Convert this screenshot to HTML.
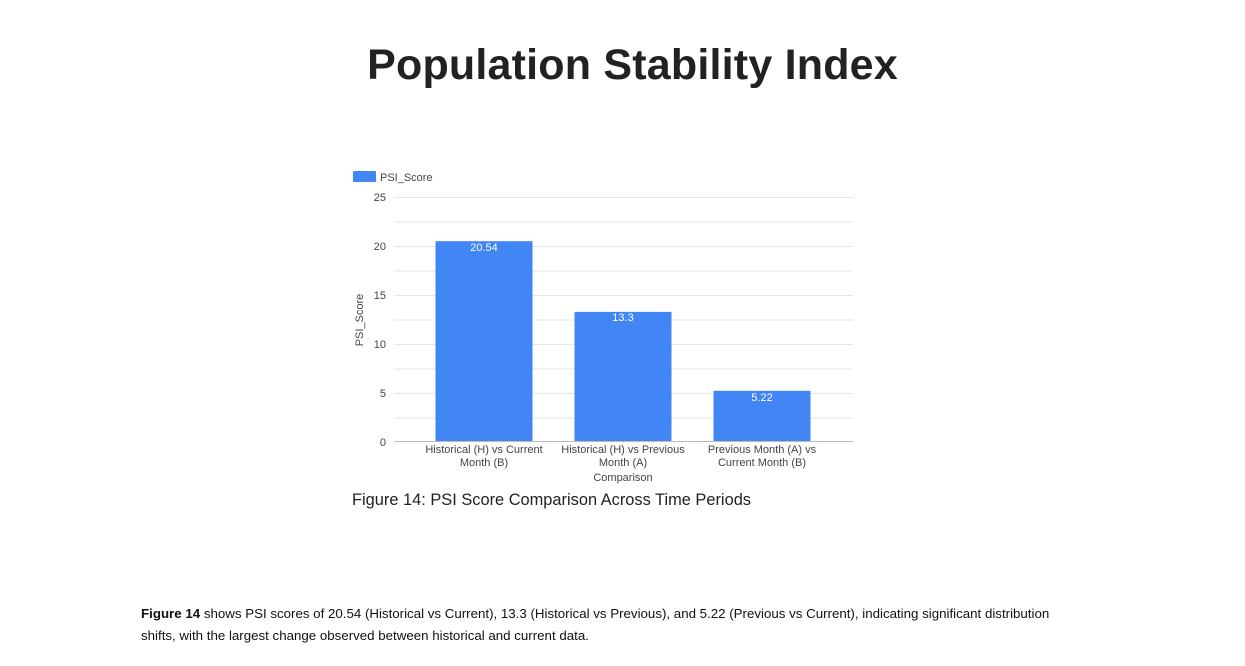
<!DOCTYPE html>
<html><head><style>
body{margin:0;width:1245px;height:666px;background:#fff;position:relative;overflow:hidden;font-family:"Liberation Sans",Arial,sans-serif;}
.t{position:absolute;left:0;width:1265px;text-align:center;top:41px;font-size:43px;font-weight:bold;color:#222;letter-spacing:0.2px}
.cap{position:absolute;left:352px;top:491px;font-size:16.4px;color:#222}
.p{position:absolute;left:141px;top:603px;width:1000px;font-size:13.3px;line-height:22px;color:#111}
</style></head><body>
<div class="t">Population Stability Index</div>
<svg width="1245" height="666" style="position:absolute;left:0;top:0" font-family="Liberation Sans, Arial, sans-serif">
<rect x="353" y="171" width="23" height="11" fill="#4285f4" rx="1"/>
<text x="380" y="181" font-size="11" fill="#444">PSI_Score</text>
<g stroke="#e6e6e6" stroke-width="1">
<line x1="394" x2="853" y1="197.5" y2="197.5"/><line x1="394" x2="853" y1="222" y2="222"/>
<line x1="394" x2="853" y1="246.5" y2="246.5"/><line x1="394" x2="853" y1="271" y2="271"/>
<line x1="394" x2="853" y1="295.5" y2="295.5"/><line x1="394" x2="853" y1="320" y2="320"/>
<line x1="394" x2="853" y1="344.5" y2="344.5"/><line x1="394" x2="853" y1="369" y2="369"/>
<line x1="394" x2="853" y1="393.5" y2="393.5"/><line x1="394" x2="853" y1="418" y2="418"/>
</g>
<g font-size="11" fill="#444" text-anchor="end">
<text x="386" y="201">25</text><text x="386" y="250">20</text><text x="386" y="299">15</text>
<text x="386" y="348">10</text><text x="386" y="397">5</text><text x="386" y="446">0</text>
</g>
<text transform="translate(363,320) rotate(-90)" font-size="11" fill="#444" text-anchor="middle">PSI_Score</text>
<rect x="435.5" y="241.2" width="97" height="200.5" fill="#4285f4"/>
<rect x="574.5" y="311.9" width="97" height="129.8" fill="#4285f4"/>
<rect x="713.5" y="390.8" width="97" height="50.9" fill="#4285f4"/>
<line x1="394" x2="853" y1="441.5" y2="441.5" stroke="#bbb"/>
<g font-size="11" fill="#fff" text-anchor="middle">
<text x="484" y="251">20.54</text><text x="623" y="321">13.3</text><text x="762" y="401">5.22</text>
</g>
<g font-size="11" fill="#444" text-anchor="middle">
<text x="484" y="453">Historical (H) vs Current</text><text x="484" y="466">Month (B)</text>
<text x="623" y="453">Historical (H) vs Previous</text><text x="623" y="466">Month (A)</text>
<text x="762" y="453">Previous Month (A) vs</text><text x="762" y="466">Current Month (B)</text>
<text x="623" y="481">Comparison</text>
</g>
</svg>
<div class="cap">Figure 14: PSI Score Comparison Across Time Periods</div>
<div class="p"><b>Figure 14</b> shows PSI scores of 20.54 (Historical vs Current), 13.3 (Historical vs Previous), and 5.22 (Previous vs Current), indicating significant distribution<br>shifts, with the largest change observed between historical and current data.</div>
</body></html>
